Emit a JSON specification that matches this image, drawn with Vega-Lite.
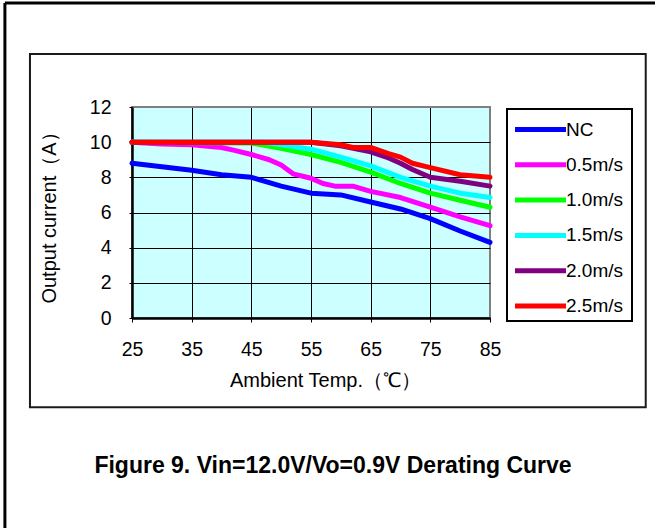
{
  "$schema": "https://vega.github.io/schema/vega-lite/v6.json",
  "autosize": "none",
  "width": 358,
  "height": 211,
  "padding": {"left": 132, "top": 107, "right": 165, "bottom": 210},
  "background": "white",
  "config": {
    "font": "Liberation Sans",
    "view": {"fill": "#CCFFFF", "stroke": "#808080", "strokeWidth": 2},
    "legend": {"strokeWidth": 2}
  },
  "title": {
    "text": "Figure 9. Vin=12.0V/Vo=0.9V Derating Curve",
    "orient": "bottom",
    "anchor": "middle",
    "frame": "group",
    "fontSize": 23,
    "fontWeight": "bold",
    "color": "#000000",
    "offset": -76,
    "dx": 22
  },
  "resolve": {"axis": {"x": "independent", "y": "independent"}},
  "datasets": {
    "frame": [{"k": 1}],
    "curves": [
      {"t": 25, "i": 8.8, "s": "NC"},
      {"t": 30, "i": 8.6, "s": "NC"},
      {"t": 35, "i": 8.4, "s": "NC"},
      {"t": 40, "i": 8.15, "s": "NC"},
      {"t": 45, "i": 8.0, "s": "NC"},
      {"t": 50, "i": 7.5, "s": "NC"},
      {"t": 55, "i": 7.1, "s": "NC"},
      {"t": 60, "i": 7.0, "s": "NC"},
      {"t": 65, "i": 6.6, "s": "NC"},
      {"t": 70, "i": 6.2, "s": "NC"},
      {"t": 75, "i": 5.65, "s": "NC"},
      {"t": 80, "i": 4.95, "s": "NC"},
      {"t": 85, "i": 4.3, "s": "NC"},
      {"t": 25, "i": 10.0, "s": "0.5m/s"},
      {"t": 30, "i": 9.9, "s": "0.5m/s"},
      {"t": 35, "i": 9.85, "s": "0.5m/s"},
      {"t": 40, "i": 9.7, "s": "0.5m/s"},
      {"t": 42, "i": 9.55, "s": "0.5m/s"},
      {"t": 45, "i": 9.3, "s": "0.5m/s"},
      {"t": 48, "i": 9.0, "s": "0.5m/s"},
      {"t": 50, "i": 8.7, "s": "0.5m/s"},
      {"t": 52, "i": 8.2, "s": "0.5m/s"},
      {"t": 55, "i": 7.95, "s": "0.5m/s"},
      {"t": 57, "i": 7.65, "s": "0.5m/s"},
      {"t": 59, "i": 7.5, "s": "0.5m/s"},
      {"t": 62, "i": 7.5, "s": "0.5m/s"},
      {"t": 65, "i": 7.2, "s": "0.5m/s"},
      {"t": 70, "i": 6.85, "s": "0.5m/s"},
      {"t": 75, "i": 6.3, "s": "0.5m/s"},
      {"t": 80, "i": 5.75, "s": "0.5m/s"},
      {"t": 85, "i": 5.25, "s": "0.5m/s"},
      {"t": 25, "i": 10.0, "s": "1.0m/s"},
      {"t": 45, "i": 9.95, "s": "1.0m/s"},
      {"t": 50, "i": 9.65, "s": "1.0m/s"},
      {"t": 55, "i": 9.3, "s": "1.0m/s"},
      {"t": 60, "i": 8.85, "s": "1.0m/s"},
      {"t": 65, "i": 8.3, "s": "1.0m/s"},
      {"t": 70, "i": 7.65, "s": "1.0m/s"},
      {"t": 75, "i": 7.1, "s": "1.0m/s"},
      {"t": 80, "i": 6.7, "s": "1.0m/s"},
      {"t": 85, "i": 6.3, "s": "1.0m/s"},
      {"t": 25, "i": 10.0, "s": "1.5m/s"},
      {"t": 47, "i": 10.0, "s": "1.5m/s"},
      {"t": 50, "i": 9.85, "s": "1.5m/s"},
      {"t": 55, "i": 9.6, "s": "1.5m/s"},
      {"t": 60, "i": 9.15, "s": "1.5m/s"},
      {"t": 65, "i": 8.65, "s": "1.5m/s"},
      {"t": 70, "i": 8.0, "s": "1.5m/s"},
      {"t": 75, "i": 7.5, "s": "1.5m/s"},
      {"t": 80, "i": 7.1, "s": "1.5m/s"},
      {"t": 85, "i": 6.85, "s": "1.5m/s"},
      {"t": 25, "i": 10.0, "s": "2.0m/s"},
      {"t": 55, "i": 10.0, "s": "2.0m/s"},
      {"t": 60, "i": 9.8, "s": "2.0m/s"},
      {"t": 65, "i": 9.45, "s": "2.0m/s"},
      {"t": 68, "i": 9.1, "s": "2.0m/s"},
      {"t": 70, "i": 8.8, "s": "2.0m/s"},
      {"t": 72, "i": 8.45, "s": "2.0m/s"},
      {"t": 75, "i": 8.0, "s": "2.0m/s"},
      {"t": 80, "i": 7.78, "s": "2.0m/s"},
      {"t": 85, "i": 7.5, "s": "2.0m/s"},
      {"t": 25, "i": 10.0, "s": "2.5m/s"},
      {"t": 55, "i": 10.0, "s": "2.5m/s"},
      {"t": 60, "i": 9.85, "s": "2.5m/s"},
      {"t": 62, "i": 9.7, "s": "2.5m/s"},
      {"t": 65, "i": 9.7, "s": "2.5m/s"},
      {"t": 68, "i": 9.35, "s": "2.5m/s"},
      {"t": 70, "i": 9.15, "s": "2.5m/s"},
      {"t": 72, "i": 8.8, "s": "2.5m/s"},
      {"t": 75, "i": 8.55, "s": "2.5m/s"},
      {"t": 80, "i": 8.15, "s": "2.5m/s"},
      {"t": 85, "i": 8.0, "s": "2.5m/s"}
    ]
  },
  "layer": [
    {
      "data": {"name": "frame"},
      "mark": {"type": "rect", "fill": null, "stroke": "#1a1a1a", "strokeWidth": 2, "clip": false},
      "encoding": {
        "x": {"datum": 7.9, "type": "quantitative", "scale": {"domain": [25, 85], "nice": false, "zero": false}, "axis": null},
        "x2": {"datum": 111.1},
        "y": {"datum": 15.01, "type": "quantitative", "scale": {"domain": [0, 12], "nice": false, "zero": false}, "axis": null},
        "y2": {"datum": -5.07}
      }
    },
    {
      "data": {"name": "frame"},
      "mark": {"type": "rule", "stroke": "#000000", "strokeWidth": 3, "clip": false},
      "encoding": {
        "x": {"datum": 3.7, "type": "quantitative", "scale": {"domain": [25, 85], "nice": false, "zero": false}, "axis": null},
        "x2": {"datum": 116},
        "y": {"datum": 17.92, "type": "quantitative", "scale": {"domain": [0, 12], "nice": false, "zero": false}, "axis": null}
      }
    },
    {
      "data": {"name": "frame"},
      "mark": {"type": "rule", "stroke": "#000000", "strokeWidth": 3, "clip": false},
      "encoding": {
        "x": {"datum": 3.7, "type": "quantitative", "scale": {"domain": [25, 85], "nice": false, "zero": false}, "axis": null},
        "y": {"datum": 17.92, "type": "quantitative", "scale": {"domain": [0, 12], "nice": false, "zero": false}, "axis": null},
        "y2": {"datum": -12}
      }
    },
    {
      "data": {"name": "curves"},
      "mark": {"type": "line", "interpolate": "linear", "strokeCap": "round", "strokeJoin": "round"},
      "encoding": {
        "x": {
          "field": "t", "type": "quantitative",
          "scale": {"domain": [25, 85], "nice": false, "zero": false},
          "axis": {
            "values": [25, 35, 45, 55, 65, 75, 85],
            "title": "Ambient Temp.（℃）",
            "titleFontSize": 20, "titleFontWeight": "normal", "titleColor": "#000000", "titlePadding": 12,
            "titleX": 193,
            "labelFontSize": 19.5, "labelColor": "#000000", "labelPadding": 18,
            "labelFlush": false, "labelOverlap": false,
            "grid": true,
            "gridColor": {"condition": {"test": "datum.value === 85", "value": "#808080"}, "value": "#000000"},
            "gridWidth": 1, "gridOpacity": 1,
            "domainColor": "#000000", "domainWidth": 2.5,
            "ticks": true, "tickSize": 4, "tickColor": "#000000", "tickWidth": 1
          }
        },
        "y": {
          "field": "i", "type": "quantitative",
          "scale": {"domain": [0, 12], "nice": false, "zero": false},
          "axis": {
            "values": [0, 2, 4, 6, 8, 10, 12],
            "title": "Output current（A）",
            "titleFontSize": 20, "titleFontWeight": "normal", "titleColor": "#000000", "titlePadding": 30,
            "labelFontSize": 19.5, "labelColor": "#000000", "labelPadding": 18,
            "labelFlush": false, "labelOverlap": false,
            "grid": true,
            "gridColor": {"condition": {"test": "datum.value === 12", "value": "#808080"}, "value": "#000000"},
            "gridWidth": 1, "gridOpacity": 1,
            "domainColor": "#000000", "domainWidth": 2.5,
            "ticks": true, "tickSize": 3, "tickColor": "#000000", "tickWidth": 1
          }
        },
        "color": {
          "field": "s", "type": "nominal",
          "scale": {
            "domain": ["NC", "0.5m/s", "1.0m/s", "1.5m/s", "2.0m/s", "2.5m/s"],
            "range": ["#0000FF", "#FF00FF", "#00FF00", "#00FFFF", "#800080", "#FF0000"]
          },
          "legend": {
            "title": "\u00a0",
            "titleOrient": "right",
            "titleFontSize": 10,
            "titlePadding": 4,
            "orient": "none",
            "legendX": 375,
            "legendY": 2,
            "symbolType": "M-2,0H2",
            "symbolSize": 650,
            "symbolOffset": 13,
            "labelFontSize": 19,
            "labelColor": "#000000",
            "labelOffset": 10,
            "labelLimit": 200,
            "rowPadding": 9.3,
            "padding": 5,
            "strokeColor": "#000000",
            "encode": {"symbols": {"update": {"strokeWidth": {"scale": "strokeWidth", "field": "value"}}}}
          }
        },
        "strokeWidth": {
          "field": "s", "type": "nominal",
          "scale": {
            "domain": ["NC", "0.5m/s", "1.0m/s", "1.5m/s", "2.0m/s", "2.5m/s"],
            "range": [5, 5, 5, 2, 2, 2]
          },
          "legend": null
        },
        "order": {"field": "t", "type": "quantitative"}
      }
    }
  ]
}
